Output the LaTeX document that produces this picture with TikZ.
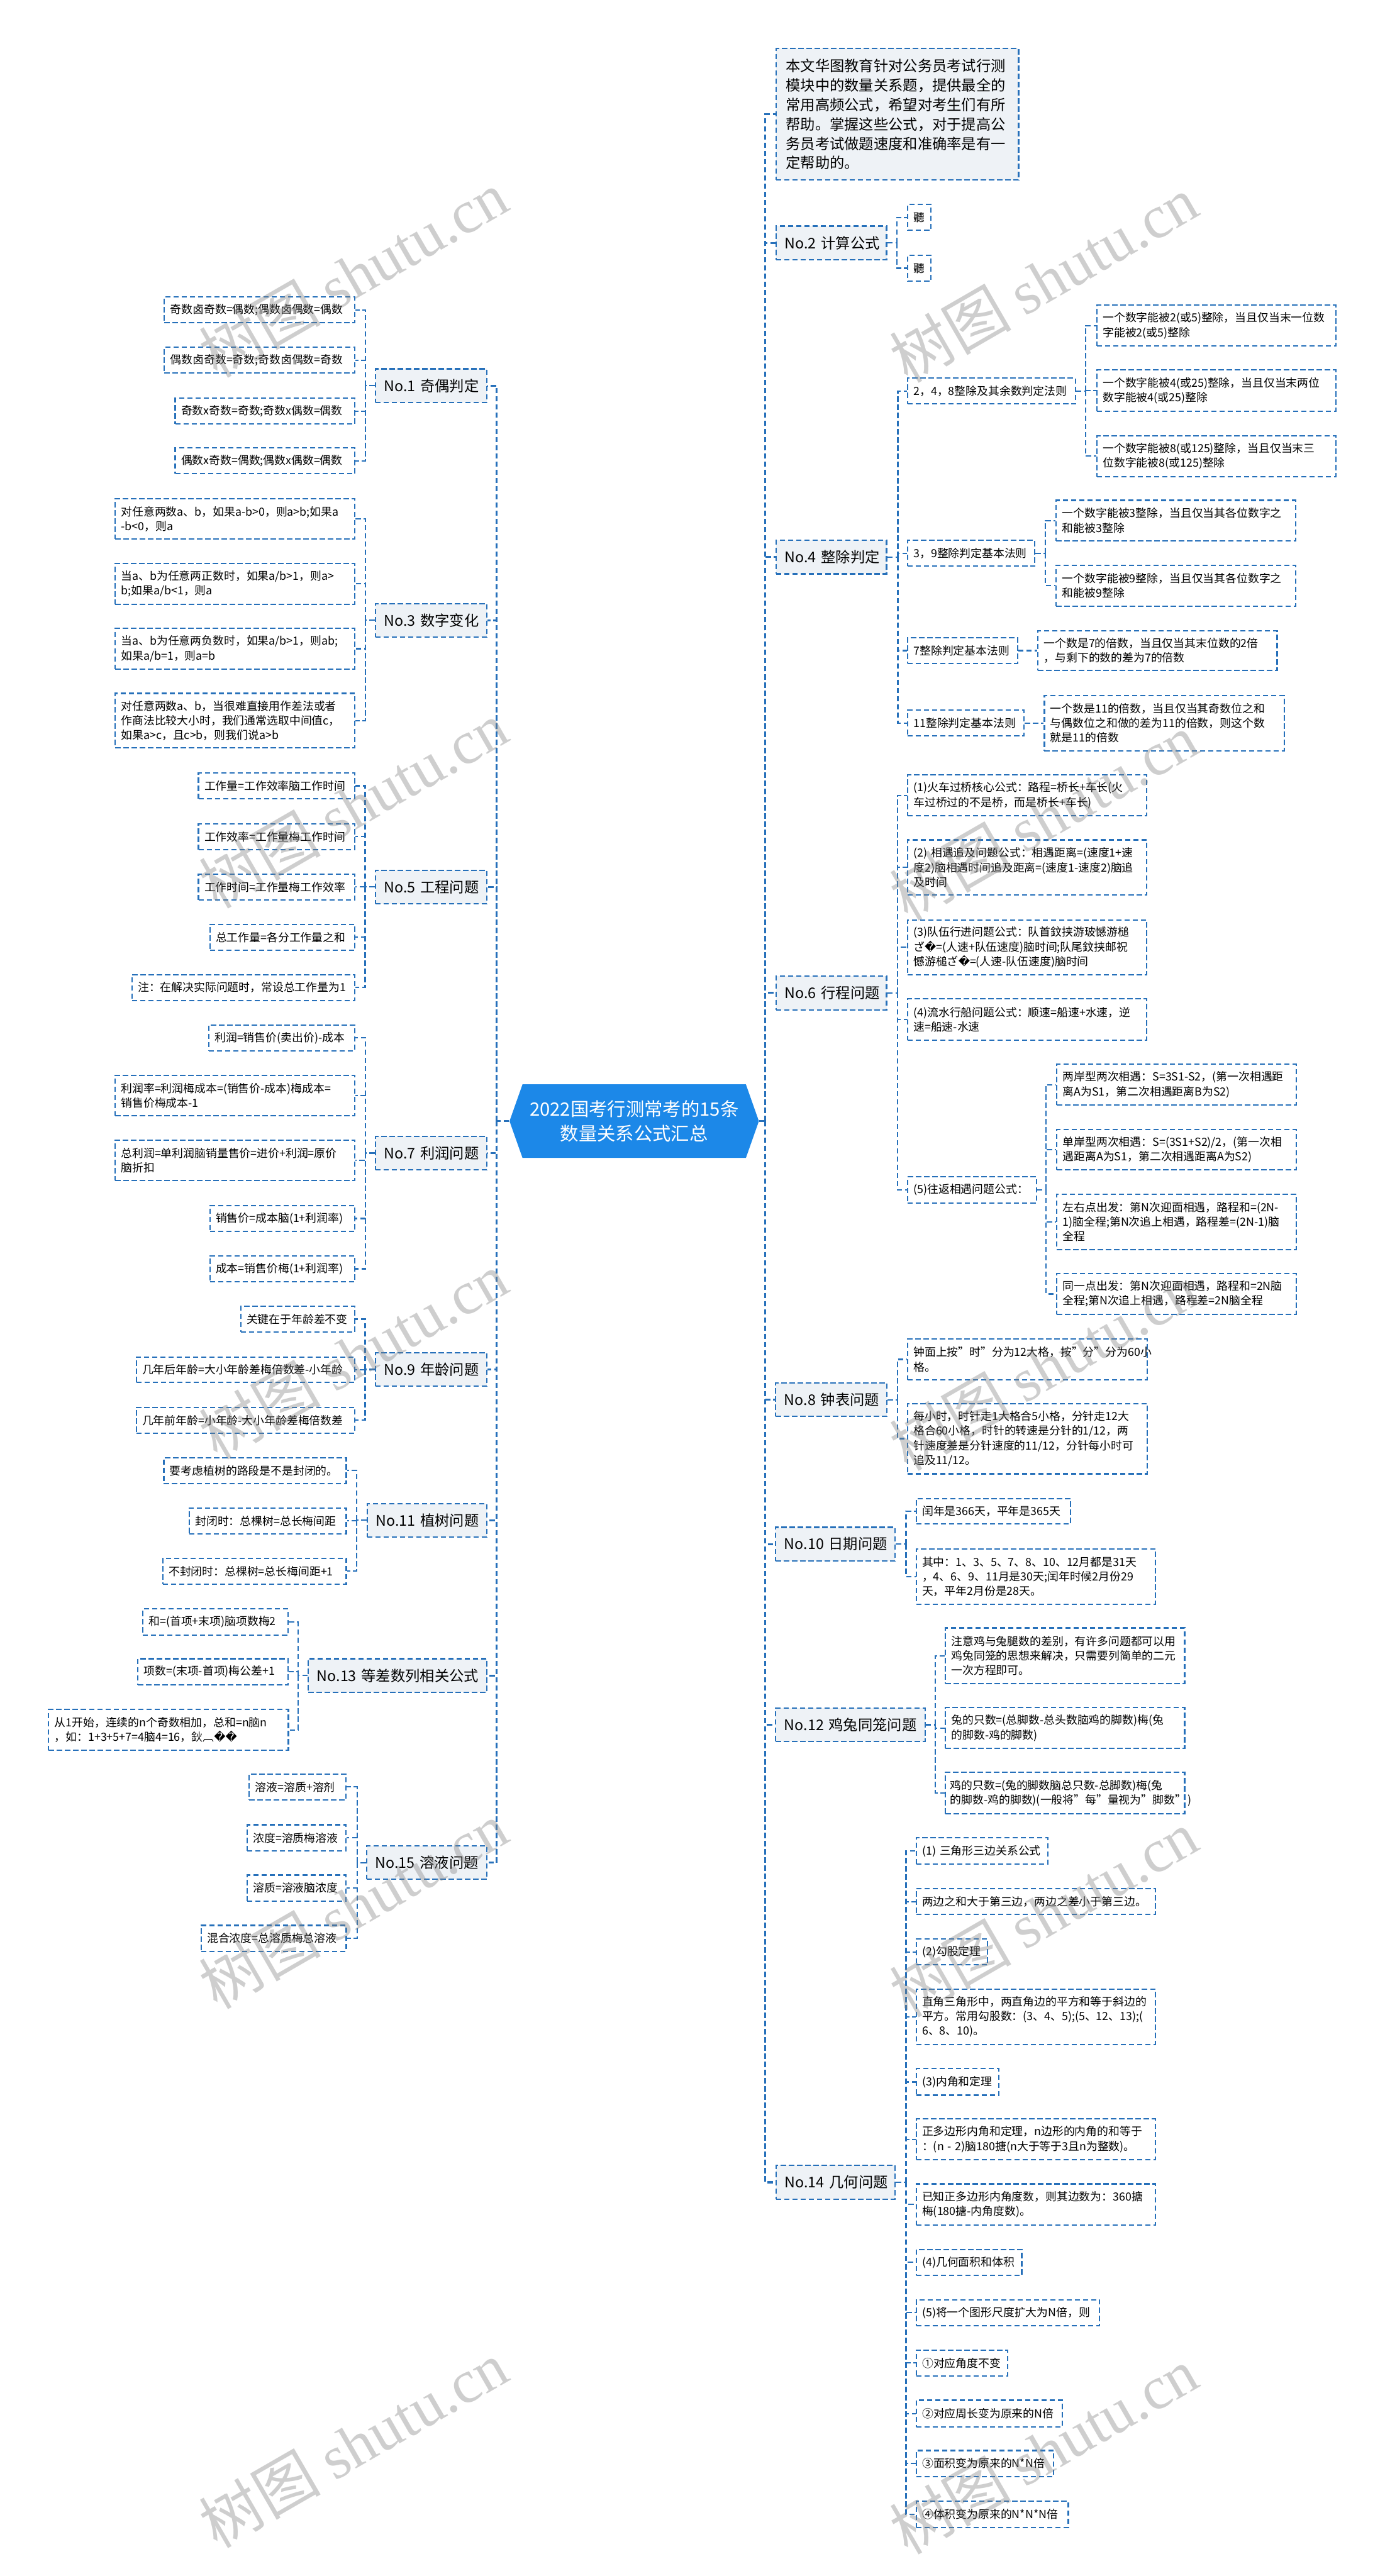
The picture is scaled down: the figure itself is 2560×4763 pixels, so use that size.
\documentclass[tikz,border=0pt]{standalone}
\usepackage{fontspec}
\setmainfont{Noto Sans CJK SC}
\newfontfamily\dv{DejaVu Sans}
\newfontfamily\wmserif{Liberation Serif}
\hyphenpenalty=10000
\exhyphenpenalty=10000
\definecolor{lineblue}{RGB}{38,112,186}
\definecolor{topicfill}{RGB}{238,242,246}
\definecolor{rootblue}{RGB}{28,136,232}
\tikzset{
  boxbase/.style={draw=lineblue, line width=0.7pt, dash pattern=on 2.8pt off 1.5pt, inner ysep=1pt, anchor=center},
  childbox/.style={boxbase, fill=white, font=\fontsize{5.9pt}{7.7pt}\selectfont, align=left},
  topicbox/.style={boxbase, fill=topicfill, font=\fontsize{7.7pt}{10.2pt}\selectfont, align=center},
  introbox/.style={boxbase, fill=topicfill, font=\fontsize{7.7pt}{10.2pt}\selectfont, align=left},
  conn/.style={draw=lineblue, line width=0.7pt, dash pattern=on 2.8pt off 1.5pt},
  mainconn/.style={draw=lineblue, line width=1.0pt, dash pattern=on 2.8pt off 1.5pt},
  roottxt/.style={text=white, align=center, font=\fontsize{9.7pt}{12.8pt}\selectfont, inner sep=0pt, minimum width=131.2pt, minimum height=38.7pt},
  wm/.style={rotate=30, text=black!50, text opacity=0.38, font=\fontsize{32pt}{32pt}\selectfont, inner sep=0pt}
}
% #1 style, #2 xsep (px), #3 name, #4 x1, #5 y1, #6 x2, #7 y2, #8 text
\newcommand\bxnode[8]{%
  \pgfmathsetlengthmacro\bxw{(#6-#4)*0.28453pt}%
  \pgfmathsetlengthmacro\bxh{(#7-#5)*0.28453pt}%
  \pgfmathsetlengthmacro\bxt{(#6-#4-2*#2)*0.28453pt}%
  \pgfmathsetlengthmacro\bxs{#2*0.28453pt}%
  \pgfmathsetmacro\bxcx{(#4+#6)/2}%
  \pgfmathsetmacro\bxcy{(#5+#7)/2}%
  \node[#1, inner xsep=\bxs, minimum width=\bxw, minimum height=\bxh, text width=\bxt] (#3) at (\bxcx,\bxcy) {#8};%
}
% #1 parent, #2 parent anchor, #3 sx, #4 sy, #5 child anchor, #6 children
\newcommand\fanout[6]{%
  \coordinate (#1-s) at (#3,#4);
  \draw[conn] (#1.#2) -- (#1-s);
  \foreach \c in {#6} {\draw[conn] (#1-s) |- (\c.#5);}
}
\begin{document}
\begin{tikzpicture}[x=0.01cm, y=-0.01cm]
\fill[white] (0,0) rectangle (2560,4763);
\useasboundingbox (0,0) rectangle (2560,4763);

% ---------- root ----------
\fill[rootblue] (942,2073) -- (966,2005) -- (1379,2005) -- (1403,2073) -- (1379,2141) -- (966,2141) -- cycle;
\node[roottxt] (root) at (1172.5,2073) {2022国考行测常考的15条\\数量关系公式汇总};

% ---------- left topics ----------
\bxnode{topicbox}{16}{t1}{694}{682}{900}{744}{No.1~奇偶判定}
\bxnode{topicbox}{16}{t3}{694}{1116}{900}{1178}{No.3~数字变化}
\bxnode{topicbox}{16}{t5}{694}{1609}{900}{1671}{No.5~工程问题}
\bxnode{topicbox}{16}{t7}{694}{2101}{900}{2163}{No.7~利润问题}
\bxnode{topicbox}{16}{t9}{694}{2501}{900}{2563}{No.9~年龄问题}
\bxnode{topicbox}{16}{t11}{679}{2780}{900}{2842}{No.11~植树问题}
\bxnode{topicbox}{16}{t13}{570}{3067}{900}{3129}{No.13~等差数列相关公式}
\bxnode{topicbox}{16}{t15}{678}{3413}{900}{3475}{No.15~溶液问题}

% No.1
\bxnode{childbox}{11}{a11}{304}{549}{656}{597}{奇数卤奇数=偶数;偶数卤偶数=偶数}
\bxnode{childbox}{11}{a12}{304}{642}{656}{690}{偶数卤奇数=奇数;奇数卤偶数=奇数}
\bxnode{childbox}{11}{a13}{324}{736}{656}{784}{奇数x奇数=奇数;奇数x偶数=偶数}
\bxnode{childbox}{11}{a14}{324}{828}{656}{876}{偶数x奇数=偶数;偶数x偶数=偶数}
% No.3
\bxnode{childbox}{11}{a31}{213}{922}{656}{997}{对任意两数a、b，如果a-b>0，则a>b;如果a\\-b<0，则a}
\bxnode{childbox}{11}{a32}{213}{1042}{656}{1117}{当a、b为任意两正数时，如果a/b>1，则a>\\b;如果a/b<1，则a}
\bxnode{childbox}{11}{a33}{213}{1162}{656}{1237}{当a、b为任意两负数时，如果a/b>1，则ab;\\如果a/b=1，则a=b}
\bxnode{childbox}{11}{a34}{213}{1282}{656}{1383}{对任意两数a、b，当很难直接用作差法或者\\作商法比较大小时，我们通常选取中间值c，\\如果a>c，且c>b，则我们说a>b}
% No.5
\bxnode{childbox}{11}{a51}{367}{1429}{656}{1477}{工作量=工作效率脑工作时间}
\bxnode{childbox}{11}{a52}{367}{1523}{656}{1571}{工作效率=工作量梅工作时间}
\bxnode{childbox}{11}{a53}{367}{1616}{656}{1664}{工作时间=工作量梅工作效率}
\bxnode{childbox}{11}{a54}{388}{1709}{656}{1757}{总工作量=各分工作量之和}
\bxnode{childbox}{11}{a55}{244}{1802}{656}{1850}{注：在解决实际问题时，常设总工作量为1}
% No.7
\bxnode{childbox}{11}{a71}{386}{1895}{656}{1943}{利润=销售价(卖出价)-成本}
\bxnode{childbox}{11}{a72}{213}{1988}{656}{2063}{利润率=利润梅成本=(销售价-成本)梅成本=\\销售价梅成本-1}
\bxnode{childbox}{11}{a73}{213}{2108}{656}{2183}{总利润=单利润脑销量售价=进价+利润=原价\\脑折扣}
\bxnode{childbox}{11}{a74}{388}{2229}{656}{2277}{销售价=成本脑(1+利润率)}
\bxnode{childbox}{11}{a75}{388}{2322}{656}{2370}{成本=销售价梅(1+利润率)}
% No.9
\bxnode{childbox}{11}{a91}{445}{2415}{656}{2463}{关键在于年龄差不变}
\bxnode{childbox}{11}{a92}{252}{2509}{656}{2556}{几年后年龄=大小年龄差梅倍数差-小年龄}
\bxnode{childbox}{11}{a93}{252}{2602}{656}{2650}{几年前年龄=小年龄-大小年龄差梅倍数差}
% No.11
\bxnode{childbox}{11}{b11}{303}{2695}{640}{2743}{要考虑植树的路段是不是封闭的。}
\bxnode{childbox}{11}{b12}{350}{2788}{640}{2836}{封闭时：总棵树=总长梅间距}
\bxnode{childbox}{11}{b13}{301}{2881}{640}{2929}{不封闭时：总棵树=总长梅间距+1}
% No.13
\bxnode{childbox}{11}{b31}{264}{2975}{533}{3023}{和=(首项+末项)脑项数梅2}
\bxnode{childbox}{11}{b32}{255}{3067}{533}{3115}{项数=(末项-首项)梅公差+1}
\bxnode{childbox}{11}{b33}{90}{3161}{533}{3236}{从1开始，连续的n个奇数相加，总和=n脑n\\，如：1+3+5+7=4脑4=16，鈥︹{\dv ��}}
% No.15
\bxnode{childbox}{11}{b51}{461}{3280}{640}{3328}{溶液=溶质+溶剂}
\bxnode{childbox}{11}{b52}{457}{3374}{640}{3422}{浓度=溶质梅溶液}
\bxnode{childbox}{11}{b53}{457}{3467}{640}{3515}{溶质=溶液脑浓度}
\bxnode{childbox}{11}{b54}{372}{3560}{640}{3608}{混合浓度=总溶质梅总溶液}

% ---------- right topics ----------
\bxnode{introbox}{18}{intro}{1435}{90}{1883}{333}{本文华图教育针对公务员考试行测\\模块中的数量关系题，提供最全的\\常用高频公式，希望对考生们有所\\帮助。掌握这些公式，对于提高公\\务员考试做题速度和准确率是有一\\定帮助的。}
\bxnode{topicbox}{16}{t2}{1435}{418}{1639}{480}{No.2~计算公式}
\bxnode{topicbox}{16}{t4}{1435}{999}{1639}{1061}{No.4~整除判定}
\bxnode{topicbox}{16}{t6}{1435}{1805}{1639}{1867}{No.6~行程问题}
\bxnode{topicbox}{16}{t8}{1434}{2557}{1640}{2619}{No.8~钟表问题}
\bxnode{topicbox}{16}{t10}{1434}{2824}{1655}{2886}{No.10~日期问题}
\bxnode{topicbox}{16}{t12}{1434}{3158}{1710}{3220}{No.12~鸡兔同笼问题}
\bxnode{topicbox}{16}{t14}{1435}{4004}{1655}{4066}{No.14~几何问题}

% No.2
\bxnode{childbox}{11}{s21}{1678}{378}{1721}{426}{聽}
\bxnode{childbox}{11}{s22}{1678}{472}{1721}{520}{聽}
% No.4
\bxnode{childbox}{11}{u1}{1678}{699}{1988}{747}{2，4，8整除及其余数判定法则}
\bxnode{childbox}{11}{u11}{2028}{564}{2470}{640}{一个数字能被2(或5)整除，当且仅当末一位数\\字能被2(或5)整除}
\bxnode{childbox}{11}{u12}{2028}{684}{2470}{760}{一个数字能被4(或25)整除，当且仅当末两位\\数字能被4(或25)整除}
\bxnode{childbox}{11}{u13}{2028}{806}{2470}{881}{一个数字能被8(或125)整除，当且仅当末三\\位数字能被8(或125)整除}
\bxnode{childbox}{11}{u2}{1678}{999}{1913}{1047}{3，9整除判定基本法则}
\bxnode{childbox}{11}{u21}{1953}{925}{2395}{1000}{一个数字能被3整除，当且仅当其各位数字之\\和能被3整除}
\bxnode{childbox}{11}{u22}{1953}{1045}{2395}{1121}{一个数字能被9整除，当且仅当其各位数字之\\和能被9整除}
\bxnode{childbox}{11}{u3}{1678}{1179}{1881}{1227}{7整除判定基本法则}
\bxnode{childbox}{11}{u31}{1919}{1166}{2361}{1240}{一个数是7的倍数，当且仅当其末位数的2倍\\，与剩下的数的差为7的倍数}
\bxnode{childbox}{11}{u4}{1678}{1313}{1893}{1361}{11整除判定基本法则}
\bxnode{childbox}{11}{u41}{1931}{1286}{2374}{1388}{一个数是11的倍数，当且仅当其奇数位之和\\与偶数位之和做的差为11的倍数，则这个数\\就是11的倍数}
% No.6
\bxnode{childbox}{11}{v1}{1678}{1433}{2120}{1508}{(1)火车过桥核心公式：路程=桥长+车长(火\\车过桥过的不是桥，而是桥长+车长)}
\bxnode{childbox}{11}{v2}{1678}{1553}{2120}{1655}{(2)~相遇追及问题公式：相遇距离=(速度1+速\\度2)脑相遇时间追及距离=(速度1-速度2)脑追\\及时间}
\bxnode{childbox}{11}{v3}{1678}{1701}{2120}{1802}{(3)队伍行进问题公式：队首鈫挟游玻憾游槌\\ざ{\dv �}=(人速+队伍速度)脑时间;队尾鈫挟邮祝\\憾游槌ざ{\dv �}=(人速-队伍速度)脑时间}
\bxnode{childbox}{11}{v4}{1678}{1847}{2120}{1923}{(4)流水行船问题公式：顺速=船速+水速，逆\\速=船速-水速}
\bxnode{childbox}{11}{v5}{1678}{2176}{1916}{2224}{(5)往返相遇问题公式：}
\bxnode{childbox}{11}{v51}{1954}{1968}{2396}{2043}{两岸型两次相遇：S=3S1-S2，(第一次相遇距\\离A为S1，第二次相遇距离B为S2)}
\bxnode{childbox}{11}{v52}{1954}{2088}{2396}{2163}{单岸型两次相遇：S=(3S1+S2)/2，(第一次相\\遇距离A为S1，第二次相遇距离A为S2)}
\bxnode{childbox}{11}{v53}{1954}{2208}{2396}{2310}{左右点出发：第N次迎面相遇，路程和=(2N-\\1)脑全程;第N次追上相遇，路程差=(2N-1)脑\\全程}
\bxnode{childbox}{11}{v54}{1954}{2355}{2396}{2430}{同一点出发：第N次迎面相遇，路程和=2N脑\\全程;第N次追上相遇，路程差=2N脑全程}
% No.8
\bxnode{childbox}{11}{w1}{1678}{2476}{2121}{2551}{钟面上按"时"分为12大格，按"分"分为60小\\格。}
\bxnode{childbox}{11}{w2}{1678}{2595}{2121}{2725}{每小时，时针走1大格合5小格，分针走12大\\格合60小格，时针的转速是分针的1/12，两\\针速度差是分针速度的11/12，分针每小时可\\追及11/12。}
% No.10
\bxnode{childbox}{11}{x1}{1694}{2771}{1979}{2818}{闰年是366天，平年是365天}
\bxnode{childbox}{11}{x2}{1694}{2864}{2136}{2966}{其中：1、3、5、7、8、10、12月都是31天\\，4、6、9、11月是30天;闰年时候2月份29\\天，平年2月份是28天。}
% No.12
\bxnode{childbox}{11}{y1}{1748}{3010}{2190}{3113}{注意鸡与兔腿数的差别，有许多问题都可以用\\鸡兔同笼的思想来解决，只需要列简单的二元\\一次方程即可。}
\bxnode{childbox}{11}{y2}{1748}{3157}{2190}{3233}{兔的只数=(总脚数-总头数脑鸡的脚数)梅(兔\\的脚数-鸡的脚数)}
\bxnode{childbox}{9}{y3}{1748}{3277}{2190}{3354}{鸡的只数=(兔的脚数脑总只数-总脚数)梅(兔\\的脚数-鸡的脚数)(一般将"每"量视为"脚数"\,)}
% No.14
\bxnode{childbox}{11}{z1}{1694}{3398}{1937}{3447}{(1)~三角形三边关系公式}
\bxnode{childbox}{11}{z2}{1694}{3492}{2136}{3540}{两边之和大于第三边，两边之差小于第三边。}
\bxnode{childbox}{11}{z3}{1694}{3585}{1826}{3633}{(2)勾股定理}
\bxnode{childbox}{11}{z4}{1694}{3678}{2136}{3780}{直角三角形中，两直角边的平方和等于斜边的\\平方。常用勾股数：(3、4、5);(5、12、13);(\\6、8、10)。}
\bxnode{childbox}{11}{z5}{1694}{3825}{1847}{3874}{(3)内角和定理}
\bxnode{childbox}{11}{z6}{1694}{3918}{2136}{3993}{正多边形内角和定理，n边形的内角的和等于\\：(n~-~2)脑180搪(n大于等于3且n为整数)。}
\bxnode{childbox}{11}{z7}{1694}{4038}{2136}{4114}{已知正多边形内角度数，则其边数为：360搪\\梅(180搪-内角度数)。}
\bxnode{childbox}{11}{z8}{1694}{4159}{1889}{4207}{(4)几何面积和体积}
\bxnode{childbox}{11}{z9}{1694}{4252}{2033}{4300}{(5)将一个图形尺度扩大为N倍，则}
\bxnode{childbox}{11}{z10}{1694}{4345}{1863}{4393}{①对应角度不变}
\bxnode{childbox}{11}{z11}{1694}{4438}{1964}{4487}{②对应周长变为原来的N倍}
\bxnode{childbox}{11}{z12}{1694}{4531}{1948}{4579}{③面积变为原来的N*N倍}
\bxnode{childbox}{11}{z13}{1694}{4625}{1975}{4673}{④体积变为原来的N*N*N倍}

% ---------- main connectors ----------
\coordinate (LS) at (918,2073);
\coordinate (RS) at (1415,2073);
\draw[mainconn] (root.west) -- (LS);
\draw[mainconn] (root.east) -- (RS);
\foreach \t in {t1,t3,t5,t7,t9,t11,t13,t15} {\draw[mainconn] (LS) |- (\t.east);}
\foreach \t in {intro,t2,t4,t6,t8,t10,t12,t14} {\draw[mainconn] (RS) |- (\t.west);}

% ---------- sub connectors ----------
\fanout{t1}{west}{676}{713}{east}{a11,a12,a13,a14}
\fanout{t3}{west}{676}{1147}{east}{a31,a32,a33,a34}
\fanout{t5}{west}{675}{1640}{east}{a51,a52,a53,a54,a55}
\fanout{t7}{west}{676}{2132}{east}{a71,a72,a73,a74,a75}
\fanout{t9}{west}{675}{2532}{east}{a91,a92,a93}
\fanout{t11}{west}{659}{2811}{east}{b11,b12,b13}
\fanout{t13}{west}{551}{3098}{east}{b31,b32,b33}
\fanout{t15}{west}{660}{3444}{east}{b51,b52,b53,b54}

\fanout{t2}{east}{1658}{449}{west}{s21,s22}
\fanout{t4}{east}{1660}{1030}{west}{u1,u2,u3,u4}
\fanout{u1}{east}{2007}{723}{west}{u11,u12,u13}
\fanout{u2}{east}{1933}{1023}{west}{u21,u22}
\draw[conn] (u3.east) -- (u31.west);
\draw[conn] (u4.east) -- (u41.west);
\fanout{t6}{east}{1659}{1836}{west}{v1,v2,v3,v4,v5}
\fanout{v5}{east}{1934}{2200}{west}{v51,v52,v53,v54}
\fanout{t8}{east}{1659}{2588}{west}{w1,w2}
\fanout{t10}{east}{1675}{2855}{west}{x1,x2}
\fanout{t12}{east}{1729}{3189}{west}{y1,y2,y3}
\fanout{t14}{east}{1675}{4035}{west}{z1,z2,z3,z4,z5,z6,z7,z8,z9,z10,z11,z12,z13}

% ---------- watermarks ----------
\node[wm] (wm1) at (653,507) {树图~{\wmserif shutu.cn}};
\node[wm] (wm2) at (1929,516) {树图~{\wmserif shutu.cn}};
\node[wm] (wm3) at (653,1488) {树图~{\wmserif shutu.cn}};
\node[wm] (wm4) at (1929,1510) {树图~{\wmserif shutu.cn}};
\node[wm] (wm5) at (653,2506) {树图~{\wmserif shutu.cn}};
\node[wm] (wm6) at (1929,2527) {树图~{\wmserif shutu.cn}};
\node[wm] (wm7) at (653,3523) {树图~{\wmserif shutu.cn}};
\node[wm] (wm8) at (1929,3538) {树图~{\wmserif shutu.cn}};
\node[wm] (wm9) at (653,4519) {树图~{\wmserif shutu.cn}};
\node[wm] (wm10) at (1929,4531) {树图~{\wmserif shutu.cn}};
\end{tikzpicture}
\end{document}
